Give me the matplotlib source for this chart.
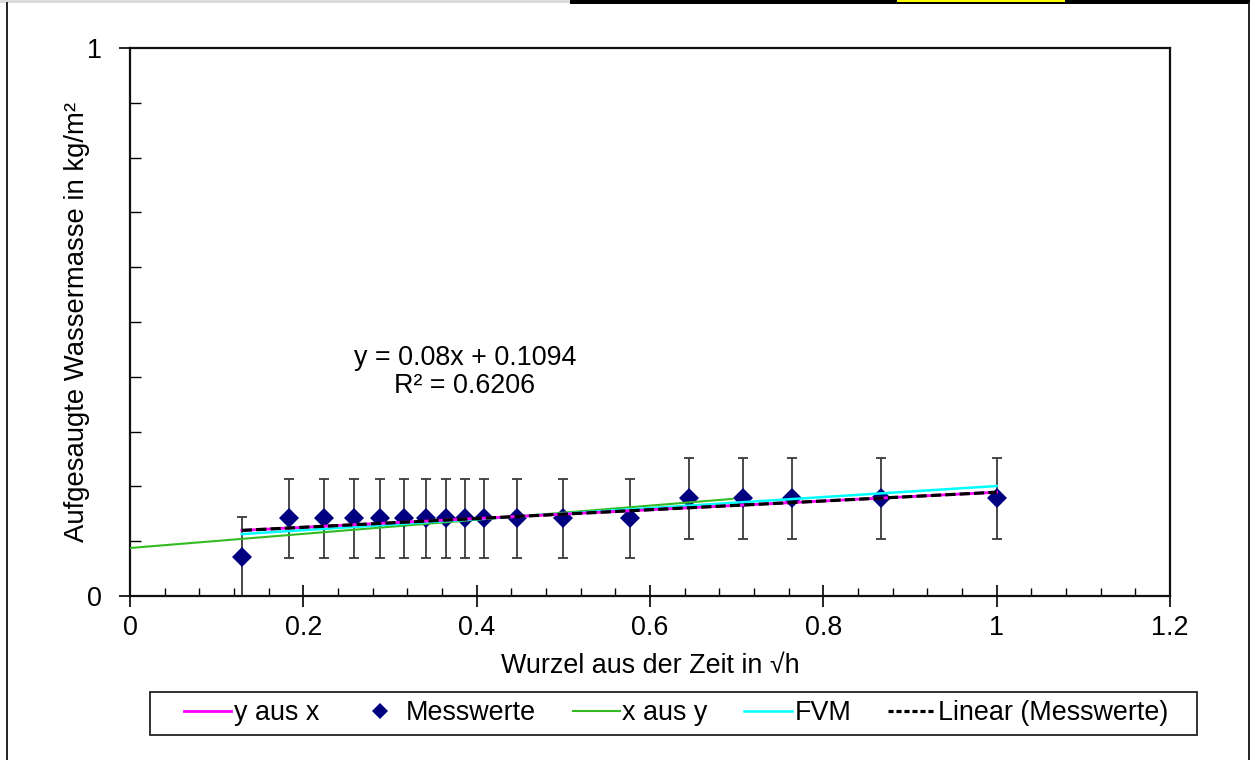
import matplotlib
matplotlib.use("Agg")
import matplotlib.pyplot as plt
from matplotlib.patches import Rectangle
from matplotlib.lines import Line2D
from matplotlib.ticker import MultipleLocator, FuncFormatter

# --- data -------------------------------------------------------------
wurzel_zeit = [0.129, 0.183, 0.224, 0.258, 0.289, 0.316, 0.342, 0.365, 0.387,
               0.408, 0.447, 0.500, 0.577, 0.645, 0.707, 0.764, 0.866, 1.000]
messwerte = [0.072, 0.142, 0.142, 0.142, 0.142, 0.142, 0.142, 0.142, 0.142,
             0.142, 0.142, 0.142, 0.142, 0.178, 0.178, 0.178, 0.178, 0.178]
fehler = [0.072, 0.072, 0.072, 0.072, 0.072, 0.072, 0.072, 0.072, 0.072,
          0.072, 0.072, 0.072, 0.072, 0.074, 0.074, 0.074, 0.074, 0.074]

# regression line y on x (trendline of the measured values)
steigung = 0.08
achsenabschnitt = 0.1094
bestimmtheit = 0.6206
y_aus_x_x = [0.129, 1.000]

# regression x on y, drawn as line
x_aus_y_x = [0.0, 0.695]
x_aus_y_y = [0.0876, 0.1772]

# FVM curve
fvm_x = [0.129, 1.000]
fvm_y = [0.113, 0.2007]

x_ticks = [0, 0.2, 0.4, 0.6, 0.8, 1.0, 1.2]
y_ticks = [0, 1]
labels = ["y aus x", "Messwerte", "x aus y", "FVM", "Linear (Messwerte)"]

# --- figure -----------------------------------------------------------
W, H = 1254, 760
plt.rcParams['font.family'] = ['Liberation Sans', 'DejaVu Sans']
FS = 19.4
fig = plt.figure(figsize=(W / 100, H / 100), dpi=100)


def px(x0, y0, x1, y1):
    """pixel box -> figure fraction [left, bottom, width, height]"""
    return [x0 / W, 1 - y1 / H, (x1 - x0) / W, (y1 - y0) / H]


ax = fig.add_axes(px(130, 48, 1170, 596))

# measured values with error bars
ax.errorbar(wurzel_zeit, messwerte, yerr=fehler, fmt='none', ecolor='#3a3a3a',
            elinewidth=1.3, capsize=3.4, capthick=1.3, zorder=2)
ax.plot(wurzel_zeit, messwerte, linestyle='none', marker='D', markersize=10,
        color='#000080', markeredgewidth=0, zorder=3)

# lines
ax.plot(x_aus_y_x, x_aus_y_y, color='#33bb22', lw=1.5, zorder=4)
ax.plot(fvm_x, fvm_y, color='#00ffff', lw=1.8, zorder=4)
yx = [steigung * v + achsenabschnitt for v in y_aus_x_x]
ax.plot(y_aus_x_x, yx, color='#ff00ff', lw=2.0, zorder=5)
ax.plot(y_aus_x_x, yx, color='black', lw=2.3, dashes=(3.2, 1.3), zorder=6)

ax.text(0.3865, 0.409,
        f"y = {steigung:g}x + {achsenabschnitt:g}\nR² = {bestimmtheit:g}",
        ha='center', va='center', multialignment='center', fontsize=FS,
        linespacing=1.1)

# axes
ax.set_xlim(0, 1.2)
ax.set_ylim(0, 1)
ax.set_xticks(x_ticks)
ax.set_yticks(y_ticks)
ax.xaxis.set_major_formatter(FuncFormatter(lambda v, p: f"{v:g}"))
ax.yaxis.set_major_formatter(FuncFormatter(lambda v, p: f"{v:g}"))
ax.xaxis.set_minor_locator(MultipleLocator(0.04))
ax.yaxis.set_minor_locator(MultipleLocator(0.1))
ax.tick_params(axis='x', which='major', direction='inout', length=16, width=1.2,
               labelsize=FS, pad=6)
ax.tick_params(axis='x', which='minor', direction='in', length=6, width=1.0)
ax.tick_params(axis='y', which='major', direction='out', length=8, width=1.2,
               labelsize=FS, pad=12)
ax.tick_params(axis='y', which='minor', direction='in', length=8, width=1.0)
for s in ax.spines.values():
    s.set_linewidth(1.6)
    s.set_color('#111111')

ax.set_xlabel("Wurzel aus der Zeit in √h", fontsize=FS, labelpad=8)
ax.set_ylabel("Aufgesaugte Wassermasse in kg/m²", fontsize=FS + 0.4, labelpad=-2)

# legend
handles = [
    Line2D([], [], color='#ff00ff', lw=2.0),
    Line2D([], [], linestyle='none', marker='D', markersize=8, color='#000080',
           markeredgewidth=0),
    Line2D([], [], color='#33bb22', lw=1.5),
    Line2D([], [], color='#00ffff', lw=1.8),
    Line2D([], [], color='black', lw=2.3, dashes=(1.6, 0.9)),
]
fig.add_artist(Rectangle((150 / W, 1 - 735 / H), 1047 / W, 43 / H,
                         transform=fig.transFigure, facecolor='white',
                         edgecolor='#222222', linewidth=1.3))
leg = fig.legend(handles, labels, loc='center', ncol=5, fontsize=FS,
                 bbox_to_anchor=(676 / W, 1 - 713.5 / H),
                 frameon=False, handlelength=1.75, handletextpad=0.1,
                 columnspacing=1.36, borderpad=0.0, borderaxespad=0)

# sheet frame
fig.add_artist(Rectangle((0, 1 - 3 / H), 570 / W, 3 / H, transform=fig.transFigure,
                         facecolor='#dcdcdc', edgecolor='none'))
fig.add_artist(Rectangle((570 / W, 1 - 4 / H), 680 / W, 4 / H, transform=fig.transFigure,
                         facecolor='black', edgecolor='none'))
fig.add_artist(Rectangle((897 / W, 1 - 2 / H), 168 / W, 2 / H, transform=fig.transFigure,
                         facecolor='#ffff00', edgecolor='none'))
fig.add_artist(Line2D([7 / W, 7 / W], [0, 1 - 3 / H], transform=fig.transFigure,
                      color='#222222', lw=1.4))
fig.add_artist(Line2D([1249 / W, 1249 / W], [0, 1 - 3 / H], transform=fig.transFigure,
                      color='#222222', lw=1.4))

fig.savefig("out.png", dpi=100)
